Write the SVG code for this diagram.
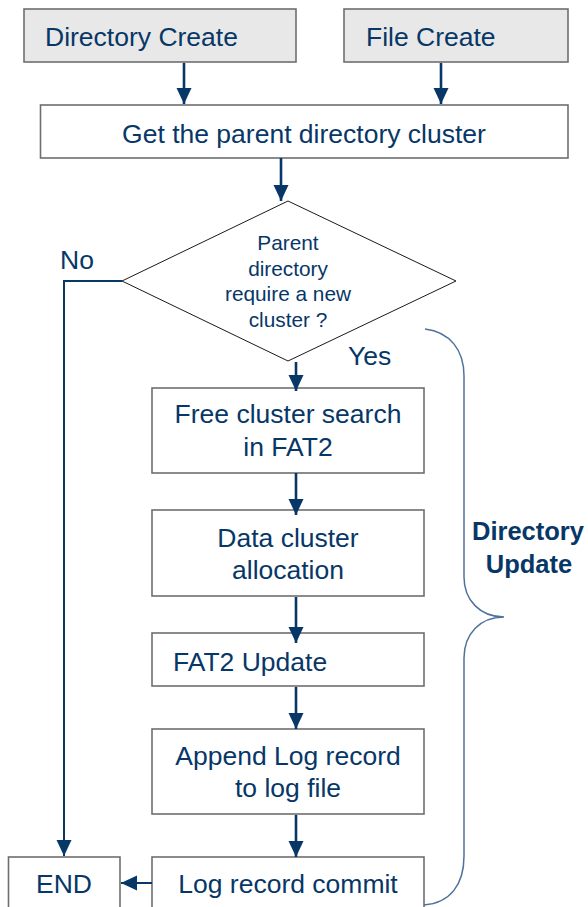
<svg xmlns="http://www.w3.org/2000/svg" width="588" height="907" viewBox="0 0 588 907">
  <style>
    .box { fill: #ffffff; stroke: #6e6e6e; stroke-width: 1.6; }
    .start { fill: #e8e8e8; stroke: #6e6e6e; stroke-width: 1.6; }
    .decision { fill: #ffffff; stroke: #1a1a1a; stroke-width: 1; }
    .lbl { font-family: "Liberation Sans", Arial, sans-serif; font-size: 26.5px; fill: #073767; }
    .mid { text-anchor: middle; }
    .small { font-size: 20.8px; }
    .bold { font-weight: bold; font-size: 25.5px; }
    .flow { fill: none; stroke: #073767; stroke-width: 2.6; }
    .thin { stroke-width: 2; }
    .brace { fill: none; stroke: #4f7299; stroke-width: 1.5; }
  </style>
  <defs>
    <marker id="head" markerUnits="userSpaceOnUse" markerWidth="16" markerHeight="16" viewBox="0 0 16 16" refX="16" refY="8" orient="auto">
      <path d="M0,0.5 L16,8 L0,15.5 z" fill="#073767"/>
    </marker>
  </defs>

  <!-- entry points -->
  <g id="directory-create">
    <rect class="start" x="24" y="9" width="272" height="53"/>
    <text class="lbl" x="45" y="46">Directory Create</text>
  </g>
  <g id="file-create">
    <rect class="start" x="344" y="9" width="224" height="53"/>
    <text class="lbl" x="366" y="46">File Create</text>
  </g>

  <g id="get-parent">
    <rect class="box" x="40.5" y="105" width="527.5" height="53"/>
    <text class="lbl mid" x="304" y="142.5">Get the parent directory cluster</text>
  </g>

  <g id="decision">
    <polygon class="decision" points="288,201 456,281 288,361 122,281"/>
    <text class="lbl mid small" x="288" y="250">Parent</text>
    <text class="lbl mid small" x="288" y="275.5">directory</text>
    <text class="lbl mid small" x="288" y="301">require a new</text>
    <text class="lbl mid small" x="288" y="326.5">cluster ?</text>
  </g>

  <g id="free-cluster-search">
    <rect class="box" x="152" y="388" width="272" height="85"/>
    <text class="lbl mid" x="288" y="423">Free cluster search</text>
    <text class="lbl mid" x="288" y="456">in FAT2</text>
  </g>

  <g id="data-cluster-allocation">
    <rect class="box" x="152" y="510" width="272" height="86"/>
    <text class="lbl mid" x="288" y="547">Data cluster</text>
    <text class="lbl mid" x="288" y="579">allocation</text>
  </g>

  <g id="fat2-update">
    <rect class="box" x="152" y="633" width="272" height="53"/>
    <text class="lbl" x="173" y="670.5">FAT2 Update</text>
  </g>

  <g id="append-log">
    <rect class="box" x="152" y="729" width="272" height="85"/>
    <text class="lbl mid" x="288" y="765">Append Log record</text>
    <text class="lbl mid" x="288" y="797">to log file</text>
  </g>

  <g id="log-commit">
    <rect class="box" x="152" y="857" width="272" height="60"/>
    <text class="lbl mid" x="288" y="893">Log record commit</text>
  </g>

  <g id="end">
    <rect class="box" x="8.5" y="857" width="111.5" height="60"/>
    <text class="lbl mid" x="64" y="893">END</text>
  </g>

  <!-- branch labels and bracket -->
  <g id="labels">
    <text class="lbl" x="60" y="269">No</text>
    <text class="lbl" x="348" y="365">Yes</text>
  </g>
  <g id="directory-update">
    <path class="brace" d="M425,329 C450,332 464,350 464,376 L464,577 C464,600 480,617 504,617 C480,617 464,634 464,658 L464,856 C464,885 450,903 424,905"/>
    <text class="lbl bold mid" x="528" y="540">Directory</text>
    <text class="lbl bold mid" x="529" y="573">Update</text>
  </g>

  <!-- connectors -->
  <g id="connectors">
    <line class="flow" x1="184" y1="63" x2="184" y2="104" marker-end="url(#head)"/>
    <line class="flow" x1="441" y1="63" x2="441" y2="104" marker-end="url(#head)"/>
    <line class="flow" x1="281" y1="158" x2="281" y2="201" marker-end="url(#head)"/>
    <polyline class="flow thin" points="122,281 64,281 64,856" marker-end="url(#head)"/>
    <line class="flow" x1="296" y1="362" x2="296" y2="391" marker-end="url(#head)"/>
    <line class="flow" x1="296" y1="473" x2="296" y2="515" marker-end="url(#head)"/>
    <line class="flow" x1="296" y1="597" x2="296" y2="643" marker-end="url(#head)"/>
    <line class="flow" x1="296" y1="687" x2="296" y2="729" marker-end="url(#head)"/>
    <line class="flow" x1="296" y1="815" x2="296" y2="857" marker-end="url(#head)"/>
    <line class="flow thin" x1="152" y1="883" x2="121" y2="883" marker-end="url(#head)"/>
  </g>
</svg>
